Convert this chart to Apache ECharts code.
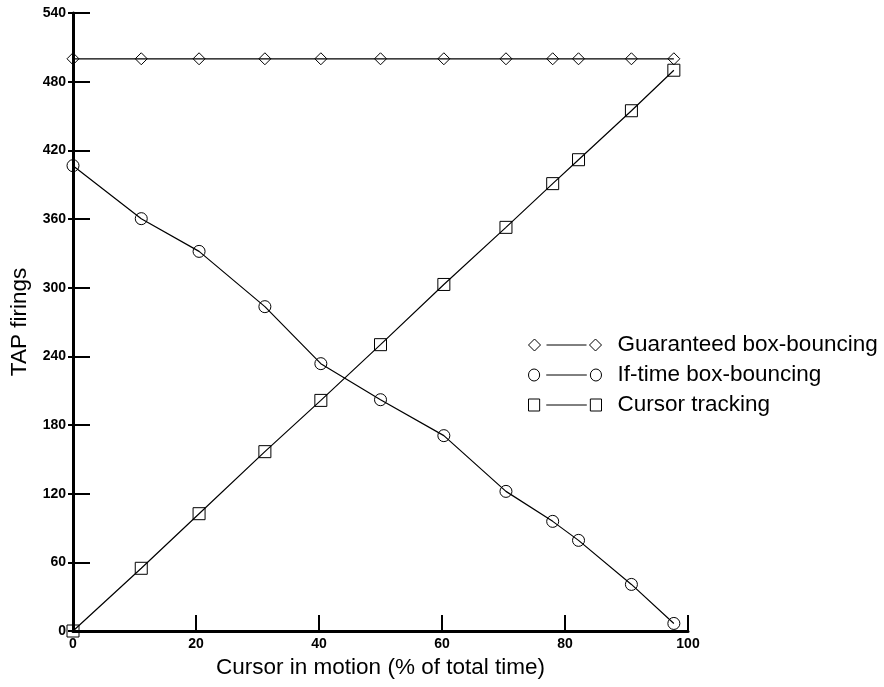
<!DOCTYPE html>
<html>
<head>
<meta charset="utf-8">
<script src="https://cdn.jsdelivr.net/npm/echarts@6/dist/echarts.min.js"></script>
<style>html,body{margin:0;padding:0;background:#fff;}#c{width:884px;height:687px;}</style>
</head>
<body>
<div id="c"></div>
<script>
const xValues = [0, 11.1, 20.5, 31.2, 40.3, 50.0, 60.3, 70.4, 78.0, 82.2, 90.8, 97.7];
const guaranteed = [500, 500, 500, 500, 500, 500, 500, 500, 500, 500, 500, 500];
const ifTime = [406.6, 360.3, 331.7, 283.4, 233.6, 202.1, 170.7, 122.0, 95.8, 79.2, 40.7, 6.6];
const cursorTracking = [0, 54.8, 102.5, 156.7, 201.5, 250.2, 302.8, 352.7, 390.9, 411.8, 454.6, 490.0];
const seriesNames = ['Guaranteed box-bouncing', 'If-time box-bouncing', 'Cursor tracking'];
const xTitle = 'Cursor in motion (% of total time)';
const yTitle = 'TAP firings';

const FONT = "'Liberation Sans', Arial, Helvetica, sans-serif";
const pairs = (ys) => xValues.map((x, i) => [x, ys[i]]);

const iconPaths = {
  diamond: 'path://M0 6L6 0L12 6L6 12Z M18 6L58 6 M61 6L67 0L73 6L67 12Z',
  circle: 'path://M11.5 6A5.5 5.5 0 1 1 0.5 6A5.5 5.5 0 1 1 11.5 6Z M18 6L58 6 M72.5 6A5.5 5.5 0 1 1 61.5 6A5.5 5.5 0 1 1 72.5 6Z',
  rect: 'path://M0.5 0.5L11.5 0.5L11.5 11.5L0.5 11.5Z M18 6L58 6 M61.5 0.5L72.5 0.5L72.5 11.5L61.5 11.5Z'
};
const symbols = ['diamond', 'circle', 'rect'];
const dataSets = [guaranteed, ifTime, cursorTracking];

const legendTops = [333, 363, 393];
const legends = seriesNames.map((n, i) => ({
  data: [{ name: n, icon: iconPaths[symbols[i]] }],
  left: 528,
  top: legendTops[i],
  padding: 0,
  itemWidth: 73,
  itemHeight: 12,
  symbolKeepAspect: false,
  selectedMode: false,
  itemStyle: { color: 'transparent', borderColor: '#000', borderWidth: 1 },
  textStyle: { fontFamily: FONT, fontSize: 22.5, color: '#000', lineHeight: 24, padding: [0, 0, 0, 11] }
}));

const option = {
  backgroundColor: '#fff',
  animation: false,
  grid: { left: 73, right: 196, top: 13, bottom: 56, containLabel: false, outerBoundsMode: 'none' },
  legend: legends,
  xAxis: {
    type: 'value', min: 0, max: 100, interval: 20,
    name: xTitle, nameLocation: 'middle', nameGap: 24,
    nameTextStyle: { fontFamily: FONT, fontSize: 22.5, color: '#000', lineHeight: 24 },
    splitLine: { show: false },
    axisLine: { show: true, lineStyle: { color: '#000', width: 3 } },
    axisTick: { show: true, inside: true, length: 16, lineStyle: { color: '#000', width: 2 } },
    axisLabel: { fontFamily: FONT, fontSize: 14, fontWeight: 'bold', color: '#000', margin: 6 }
  },
  yAxis: [{
    type: 'value', min: 0, max: 540, interval: 60,
    name: yTitle, nameLocation: 'middle', nameGap: 40, nameRotate: 90,
    nameTextStyle: { fontFamily: FONT, fontSize: 22.5, color: '#000', lineHeight: 24 },
    splitLine: { show: false },
    axisLine: { show: true, lineStyle: { color: '#000', width: 3 } },
    axisTick: { show: true, inside: true, length: 17, lineStyle: { color: '#000', width: 2 } },
    axisLabel: { fontFamily: FONT, fontSize: 14, fontWeight: 'bold', color: '#000', margin: 7 }
  }, {
    type: 'value', min: 0, max: 540, interval: 60, position: 'left',
    splitLine: { show: false },
    axisLine: { show: false },
    axisTick: { show: true, inside: false, length: 5, lineStyle: { color: '#000', width: 2 } },
    axisLabel: { show: false }
  }],
  series: seriesNames.map((n, i) => ({
    name: n,
    type: 'line',
    yAxisIndex: 0,
    data: pairs(dataSets[i]),
    symbol: symbols[i],
    symbolSize: 12,
    showAllSymbol: true,
    lineStyle: { color: '#000', width: 1.2 },
    itemStyle: { color: 'transparent', borderColor: '#000', borderWidth: 1 },
    emphasis: { disabled: true }
  }))
};

const chart = echarts.init(document.getElementById('c'), null, { renderer: 'canvas' });
chart.setOption(option);
</script>
</body>
</html>
